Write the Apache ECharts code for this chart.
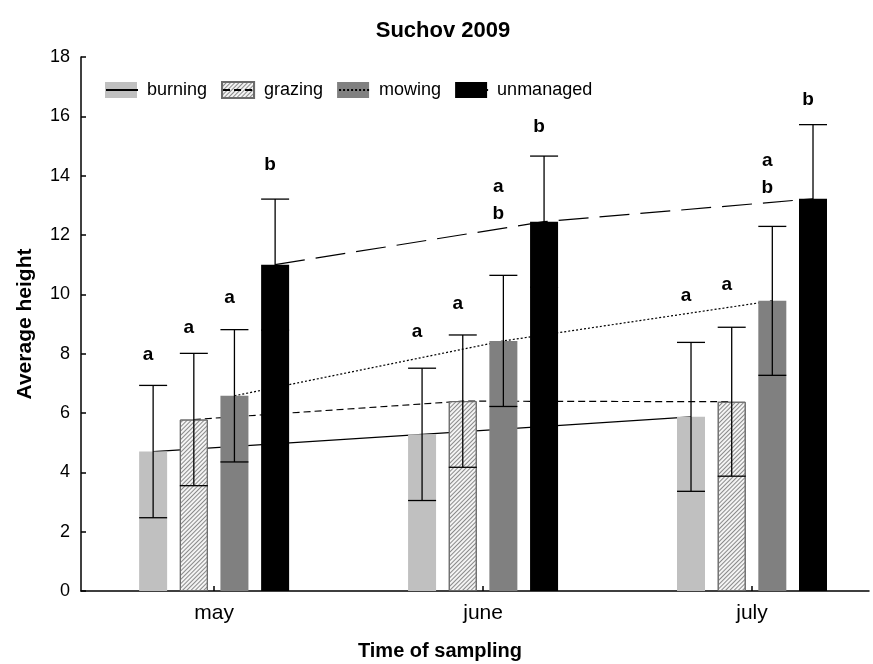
<!DOCTYPE html>
<html><head><meta charset="utf-8">
<script src="https://cdn.jsdelivr.net/npm/echarts@6/dist/echarts.min.js"></script>
<style>html,body{margin:0;padding:0;background:#fff}#c{width:873px;height:664px}</style>
</head><body><div id="c"></div>
<script>
// ---- data ----
const months = ['may', 'june', 'july'];
const treatments = ['burning', 'grazing', 'mowing', 'unmanaged'];
const burning = [4.70, 5.28, 5.87];
const grazing = [5.78, 6.40, 6.38];
const mowing = [6.58, 8.43, 9.78];
const unmanaged = [11.00, 12.45, 13.22];
const burningErr = [2.23, 2.23, 2.51];
const grazingErr = [2.23, 2.23, 2.51];
const mowingErr = [2.23, 2.21, 2.51];
const unmanagedErr = [2.21, 2.21, 2.50];
// significance letters and the height at which they are written
const burningLetters = ['a', 'a', 'a'];
const burningLetterY = [7.95, 8.73, 9.94];
const grazingLetters = ['a', 'a', 'a'];
const grazingLetterY = [8.86, 9.67, 10.31];
const mowingLetters = ['a', 'a\nb', 'a\nb'];
const mowingLetterY = [9.88, 13.17, 14.04];
const unmanagedLetters = ['b', 'b', 'b'];
const unmanagedLetterY = [14.36, 15.64, 16.55];
const yTicks = [0, 2, 4, 6, 8, 10, 12, 14, 16, 18];

// ---- styling ----
const FONT = 'Liberation Sans, Arial, sans-serif';
const means = [burning, grazing, mowing, unmanaged];
const errs = [burningErr, grazingErr, mowingErr, unmanagedErr];
const letters = [burningLetters, grazingLetters, mowingLetters, unmanagedLetters];
const letterY = [burningLetterY, grazingLetterY, mowingLetterY, unmanagedLetterY];
const offsets = [-0.2268, -0.0755, 0.0755, 0.2268];
const barStyles = [
  {color: '#c0c0c0'},
  {color: '#f4f4f4', borderColor: '#6a6a6a', borderWidth: 1,
   decal: {symbol: 'rect', symbolSize: 1, color: '#8a8a8a', dashArrayX: [1, 0], dashArrayY: [1, 2], rotation: -Math.PI / 4}},
  {color: '#808080'},
  {color: '#000000'}
];
const lineTypes = ['solid', [7, 4], [2, 2], [30, 11]];

const series = [];
treatments.forEach((t, s) => {
  const pts = months.map((m, i) => [i + offsets[s], means[s][i]]);
  series.push({
    name: t + '\u200b', type: 'line', data: pts, symbol: 'none', showSymbol: false, z: 1,
    lineStyle: {color: '#000', width: 1.2, type: lineTypes[s]}, itemStyle: {color: 'rgba(0,0,0,0)'}
  });
});
treatments.forEach((t, s) => {
  series.push({
    name: t, type: 'bar', barWidth: 28, barGap: '-100%', z: 2,
    data: months.map((m, i) => [i + offsets[s], means[s][i]]),
    itemStyle: barStyles[s]
  });
});
treatments.forEach((t, s) => {
  series.push({
    name: t + ' error', type: 'custom', z: 3,
    data: months.map((m, i) => [i + offsets[s], means[s][i], errs[s][i]]),
    encode: {x: 0, y: 1},
    renderItem: function (params, api) {
      const x = api.value(0), m = api.value(1), e = api.value(2);
      const top = api.coord([x, m + e]);
      const bot = api.coord([x, m - e]);
      const hw = 14;
      const st = {stroke: '#000', lineWidth: 1.3};
      return {type: 'group', children: [
        {type: 'line', shape: {x1: top[0], y1: top[1], x2: bot[0], y2: bot[1]}, style: st},
        {type: 'line', shape: {x1: top[0] - hw, y1: top[1], x2: top[0] + hw, y2: top[1]}, style: st},
        {type: 'line', shape: {x1: bot[0] - hw, y1: bot[1], x2: bot[0] + hw, y2: bot[1]}, style: st}
      ]};
    }
  });
});
treatments.forEach((t, s) => {
  series.push({
    name: t + ' letters', type: 'custom', z: 4,
    data: months.map((m, i) => [i + offsets[s], letterY[s][i], i]),
    encode: {x: 0, y: 1},
    renderItem: function (params, api) {
      const p = api.coord([api.value(0), api.value(1)]);
      return {type: 'text', x: p[0] - 5, y: p[1],
        style: {text: letters[s][api.value(2)], textAlign: 'center', textVerticalAlign: 'middle',
          font: 'bold 19px ' + FONT, fill: '#000', lineHeight: 27}};
    }
  });
});

const legendCommon = {left: 100, top: 76, itemWidth: 32, itemHeight: 16, itemGap: 14, selectedMode: false};
const chart = echarts.init(document.getElementById('c'), null, {renderer: 'canvas'});
chart.setOption({
  animation: false,
  backgroundColor: '#fff',
  textStyle: {fontFamily: FONT},
  title: [
    {text: 'Suchov 2009', left: 438, top: 15, textAlign: 'center',
     textStyle: {fontSize: 22, fontWeight: 'bold', color: '#000', fontFamily: FONT}},
    {text: 'Time of sampling', left: 435, top: 636, textAlign: 'center',
     textStyle: {fontSize: 20, fontWeight: 'bold', color: '#000', fontFamily: FONT}}
  ],
  legend: [
    Object.assign({data: treatments, icon: 'rect',
     textStyle: {fontSize: 18, color: '#000', fontFamily: FONT, padding: [0, 0, 0, 5]}}, legendCommon),
    Object.assign({data: treatments.map(t => t + '\u200b'), z: 6,
     formatter: n => n.replace('\u200b', ''),
     itemStyle: {opacity: 0},
     textStyle: {fontSize: 18, color: 'rgba(0,0,0,0)', fontFamily: FONT, padding: [0, 0, 0, 5]}}, legendCommon)
  ],
  grid: {left: 81, right: 4, top: 57, bottom: 73, outerBoundsMode: 'none', containLabel: false},
  xAxis: {
    type: 'value', min: -0.495, max: 2.435,
    splitLine: {show: false},
    axisLine: {show: true, onZero: false, lineStyle: {color: '#000', width: 1.5}},
    axisTick: {show: true, inside: true, length: 5, customValues: [0, 1, 2], lineStyle: {color: '#000', width: 1.5}},
    axisLabel: {customValues: [0, 1, 2], formatter: v => months[Math.round(v)], fontSize: 21, color: '#000', margin: 12, fontFamily: FONT}
  },
  yAxis: {
    type: 'value', min: yTicks[0], max: yTicks[yTicks.length - 1], interval: 2,
    name: 'Average height', nameLocation: 'middle', nameGap: 45, nameRotate: 90,
    nameTextStyle: {fontSize: 21, fontWeight: 'bold', color: '#000', fontFamily: FONT},
    splitLine: {show: false},
    axisLine: {show: true, onZero: false, lineStyle: {color: '#000', width: 1.5}},
    axisTick: {show: true, inside: true, length: 5, lineStyle: {color: '#000', width: 1.5}},
    axisLabel: {fontSize: 18, color: '#000', margin: 11, fontFamily: FONT}
  },
  series: series
});
</script></body></html>
